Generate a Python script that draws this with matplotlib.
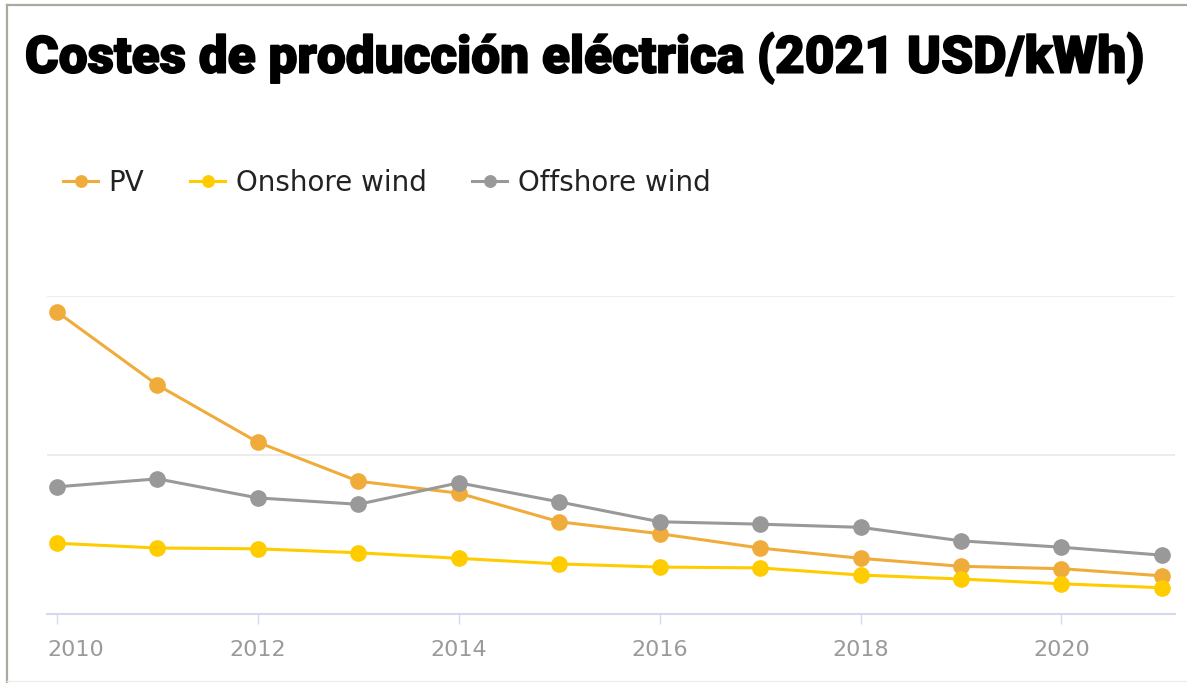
import matplotlib
matplotlib.use("Agg")
import matplotlib.pyplot as plt
from matplotlib.lines import Line2D
from matplotlib.transforms import ScaledTranslation
import matplotlib.patheffects as pe

years = [2010, 2011, 2012, 2013, 2014, 2015, 2016, 2017, 2018, 2019, 2020, 2021]
pv = [0.380, 0.288, 0.216, 0.167, 0.152, 0.116, 0.101, 0.083, 0.070, 0.060, 0.057, 0.048]
onshore = [0.089, 0.083, 0.082, 0.077, 0.070, 0.063, 0.059, 0.058, 0.049, 0.044, 0.038, 0.033]
offshore = [0.160, 0.170, 0.146, 0.138, 0.165, 0.141, 0.116, 0.113, 0.109, 0.092, 0.084, 0.074]
labels = ["PV", "Onshore wind", "Offshore wind"]
colors = ["#F0AC3B", "#FFCC00", "#999999"]
title = "Costes de producción eléctrica (2021 USD/kWh)"

W, H = 1187, 683
fig = plt.figure(figsize=(W / 100, H / 100), dpi=100)
fig.patch.set_facecolor("white")

# plot area in pixel units
left, right, top, bottom = 47, 1175, 296, 614
ax = fig.add_axes([left / W, 1 - bottom / H, (right - left) / W, (bottom - top) / H])

for vals, lab, c in zip([pv, onshore, offshore], labels, colors):
    ax.plot(years, vals, color=c, lw=2.2, marker="o", ms=11, label=lab, clip_on=False)

ax.set_xlim(2009.9, 2021.13)
ax.set_ylim(0, 0.4)
ax.set_yticks([0.2, 0.4])
ax.yaxis.grid(True, color="#ebebeb", lw=1.3)
ax.set_axisbelow(True)
ax.tick_params(axis="y", left=False, labelleft=False)
ax.set_xticks(range(2010, 2021, 2))
ax.tick_params(axis="x", direction="out", length=7.5, width=1, color="#d3daee",
               labelcolor="#9a9a9a", labelsize=16, pad=11)
for s in ["top", "right", "left"]:
    ax.spines[s].set_visible(False)
ax.spines["bottom"].set_color("#d3daee")
ax.spines["bottom"].set_linewidth(1.5)

# first year label kept inside the plot edge
first = ax.get_xticklabels()[0]
first.set_horizontalalignment("left")
first.set_transform(first.get_transform() + ScaledTranslation(-10 / 100, 0, fig.dpi_scale_trans))

ax.legend(loc="center left", bbox_to_anchor=(63 / W, 1 - 183 / H),
          bbox_transform=fig.transFigure, ncol=3, frameon=False, fontsize=20,
          handlelength=1.26, handletextpad=0.38, columnspacing=1.65,
          borderpad=0, borderaxespad=0, markerscale=0.75, labelcolor="#222222")

t = fig.text(25 / W, 1 - 58 / H, title, ha="left", va="center", fontsize=42,
             fontweight="black", family=["Roboto", "DejaVu Sans"], color="black")
# shrink the title until it fits the width
renderer = fig.canvas.get_renderer()
while t.get_window_extent(renderer).width > 1133:
    t.set_fontsize(t.get_fontsize() - 0.5)
t.set_path_effects([pe.withStroke(linewidth=1.2, foreground="black")])

# outer frame
fig.add_artist(Line2D([7 / W, 1], [1 - 5 / H, 1 - 5 / H], transform=fig.transFigure,
                      color="#aaa9a0", lw=1.6))
fig.add_artist(Line2D([7 / W, 7 / W], [1 - 5 / H, 0], transform=fig.transFigure,
                      color="#aaa9a0", lw=1.6))
fig.add_artist(Line2D([7 / W, 1], [1 - 681 / H, 1 - 681 / H], transform=fig.transFigure,
                      color="#eeeeee", lw=1))

fig.savefig("out.png", dpi=100)
